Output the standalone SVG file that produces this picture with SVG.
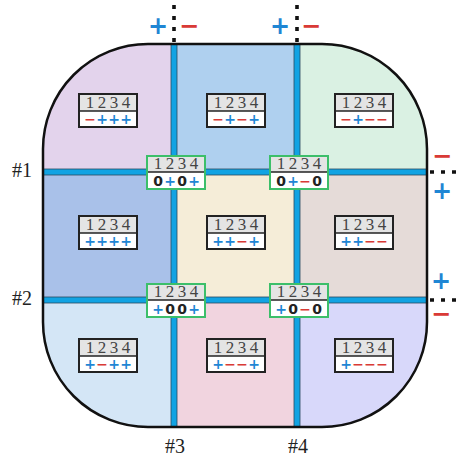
<svg xmlns="http://www.w3.org/2000/svg" width="458" height="456" viewBox="0 0 458 456">
<style>
.hd{fill:#e4e4e4}
.box{fill:none;stroke:#222;stroke-width:2}
.gbox{fill:none;stroke:#3cbf6a;stroke-width:2}
.dv{stroke:#222;stroke-width:1.5}
.num{font-family:"Liberation Serif",serif;font-size:17px;fill:#444;text-anchor:middle}
.sg{font-family:"DejaVu Sans",sans-serif;font-weight:bold;font-size:14px;text-anchor:middle}
.p{fill:#1f86d4}
.m{fill:#d93a36}
.z{fill:#222}
.lab{font-family:"Liberation Serif",serif;font-size:20px;fill:#222}
.big{font-family:"DejaVu Sans",sans-serif;font-weight:bold;font-size:24px;text-anchor:middle}
.band{fill:#11a3e3;stroke:#2a4a60;stroke-width:0.8}
.dot{stroke:#111;stroke-width:3.6;stroke-dasharray:4 7;fill:none}
</style>
<defs>
<clipPath id="shape"><rect x="43" y="44" width="384" height="383" rx="105" ry="105"/></clipPath>
</defs>
<g clip-path="url(#shape)">
<rect x="43" y="44" width="131" height="128" fill="#e3d3ec"/>
<rect x="174" y="44" width="123" height="128" fill="#afd0ef"/>
<rect x="297" y="44" width="130" height="128" fill="#daf1e3"/>
<rect x="43" y="172" width="131" height="128" fill="#a9c1e9"/>
<rect x="174" y="172" width="123" height="128" fill="#f5edd8"/>
<rect x="297" y="172" width="130" height="128" fill="#e5dbd8"/>
<rect x="43" y="300" width="131" height="127" fill="#d4e6f6"/>
<rect x="174" y="300" width="123" height="127" fill="#f1d4df"/>
<rect x="297" y="300" width="130" height="127" fill="#d8d8fa"/>
</g>
<g id="connectors">
<rect class="band" x="171" y="44" width="6" height="383"/>
<rect class="band" x="294" y="44" width="6" height="383"/>
<rect class="band" x="43" y="169" width="384" height="6"/>
<rect class="band" x="43" y="297" width="384" height="6"/>
<line class="dot" x1="174" y1="5" x2="174" y2="44"/>
<line class="dot" x1="297" y1="5" x2="297" y2="44"/>
<line class="dot" x1="430" y1="172" x2="458" y2="172"/>
<line class="dot" x1="430" y1="300" x2="458" y2="300"/>
</g>
<rect x="43" y="44" width="384" height="383" rx="105" ry="105" fill="none" stroke="#111" stroke-width="2.5"/>
<g id="polarity">
<text class="big p" x="158" y="34">+</text>
<text class="big m" x="189" y="34">−</text>
<text class="big p" x="280" y="34">+</text>
<text class="big m" x="311" y="34">−</text>
<text class="big m" x="442" y="164">−</text>
<text class="big p" x="442" y="199">+</text>
<text class="big p" x="441" y="289">+</text>
<text class="big m" x="441" y="322">−</text>
</g>
<g id="labels">
<text class="lab" x="12" y="177">#1</text>
<text class="lab" x="12" y="305">#2</text>
<text class="lab" x="175" y="453" text-anchor="middle">#3</text>
<text class="lab" x="298" y="453" text-anchor="middle">#4</text>
</g>
<g id="cell-tl">
<rect class="hd" x="79" y="94" width="58" height="17"/><rect x="79" y="111" width="58" height="16" fill="#fff"/>
<line class="dv" x1="79" y1="111" x2="137" y2="111"/><rect class="box" x="79" y="94" width="58" height="33"/>
<text class="num" y="108"><tspan x="90">1</tspan><tspan x="102">2</tspan><tspan x="114">3</tspan><tspan x="126">4</tspan></text>
<text class="sg" y="124"><tspan class="m" x="90">−</tspan><tspan class="p" x="102">+</tspan><tspan class="p" x="114">+</tspan><tspan class="p" x="126">+</tspan></text>
</g>
<g id="cell-tm">
<rect class="hd" x="207" y="94" width="58" height="17"/><rect x="207" y="111" width="58" height="16" fill="#fff"/>
<line class="dv" x1="207" y1="111" x2="265" y2="111"/><rect class="box" x="207" y="94" width="58" height="33"/>
<text class="num" y="108"><tspan x="218">1</tspan><tspan x="230">2</tspan><tspan x="242">3</tspan><tspan x="254">4</tspan></text>
<text class="sg" y="124"><tspan class="m" x="218">−</tspan><tspan class="p" x="230">+</tspan><tspan class="m" x="242">−</tspan><tspan class="p" x="254">+</tspan></text>
</g>
<g id="cell-tr">
<rect class="hd" x="335" y="94" width="58" height="17"/><rect x="335" y="111" width="58" height="16" fill="#fff"/>
<line class="dv" x1="335" y1="111" x2="393" y2="111"/><rect class="box" x="335" y="94" width="58" height="33"/>
<text class="num" y="108"><tspan x="346">1</tspan><tspan x="358">2</tspan><tspan x="370">3</tspan><tspan x="382">4</tspan></text>
<text class="sg" y="124"><tspan class="m" x="346">−</tspan><tspan class="p" x="358">+</tspan><tspan class="m" x="370">−</tspan><tspan class="m" x="382">−</tspan></text>
</g>
<g id="cell-ml">
<rect class="hd" x="79" y="216" width="58" height="17"/><rect x="79" y="233" width="58" height="16" fill="#fff"/>
<line class="dv" x1="79" y1="233" x2="137" y2="233"/><rect class="box" x="79" y="216" width="58" height="33"/>
<text class="num" y="230"><tspan x="90">1</tspan><tspan x="102">2</tspan><tspan x="114">3</tspan><tspan x="126">4</tspan></text>
<text class="sg" y="246"><tspan class="p" x="90">+</tspan><tspan class="p" x="102">+</tspan><tspan class="p" x="114">+</tspan><tspan class="p" x="126">+</tspan></text>
</g>
<g id="cell-mm">
<rect class="hd" x="207" y="216" width="58" height="17"/><rect x="207" y="233" width="58" height="16" fill="#fff"/>
<line class="dv" x1="207" y1="233" x2="265" y2="233"/><rect class="box" x="207" y="216" width="58" height="33"/>
<text class="num" y="230"><tspan x="218">1</tspan><tspan x="230">2</tspan><tspan x="242">3</tspan><tspan x="254">4</tspan></text>
<text class="sg" y="246"><tspan class="p" x="218">+</tspan><tspan class="p" x="230">+</tspan><tspan class="m" x="242">−</tspan><tspan class="p" x="254">+</tspan></text>
</g>
<g id="cell-mr">
<rect class="hd" x="335" y="216" width="58" height="17"/><rect x="335" y="233" width="58" height="16" fill="#fff"/>
<line class="dv" x1="335" y1="233" x2="393" y2="233"/><rect class="box" x="335" y="216" width="58" height="33"/>
<text class="num" y="230"><tspan x="346">1</tspan><tspan x="358">2</tspan><tspan x="370">3</tspan><tspan x="382">4</tspan></text>
<text class="sg" y="246"><tspan class="p" x="346">+</tspan><tspan class="p" x="358">+</tspan><tspan class="m" x="370">−</tspan><tspan class="m" x="382">−</tspan></text>
</g>
<g id="cell-bl">
<rect class="hd" x="79" y="339" width="58" height="17"/><rect x="79" y="356" width="58" height="16" fill="#fff"/>
<line class="dv" x1="79" y1="356" x2="137" y2="356"/><rect class="box" x="79" y="339" width="58" height="33"/>
<text class="num" y="353"><tspan x="90">1</tspan><tspan x="102">2</tspan><tspan x="114">3</tspan><tspan x="126">4</tspan></text>
<text class="sg" y="369"><tspan class="p" x="90">+</tspan><tspan class="m" x="102">−</tspan><tspan class="p" x="114">+</tspan><tspan class="p" x="126">+</tspan></text>
</g>
<g id="cell-bm">
<rect class="hd" x="207" y="339" width="58" height="17"/><rect x="207" y="356" width="58" height="16" fill="#fff"/>
<line class="dv" x1="207" y1="356" x2="265" y2="356"/><rect class="box" x="207" y="339" width="58" height="33"/>
<text class="num" y="353"><tspan x="218">1</tspan><tspan x="230">2</tspan><tspan x="242">3</tspan><tspan x="254">4</tspan></text>
<text class="sg" y="369"><tspan class="p" x="218">+</tspan><tspan class="m" x="230">−</tspan><tspan class="m" x="242">−</tspan><tspan class="p" x="254">+</tspan></text>
</g>
<g id="cell-br">
<rect class="hd" x="335" y="339" width="58" height="17"/><rect x="335" y="356" width="58" height="16" fill="#fff"/>
<line class="dv" x1="335" y1="356" x2="393" y2="356"/><rect class="box" x="335" y="339" width="58" height="33"/>
<text class="num" y="353"><tspan x="346">1</tspan><tspan x="358">2</tspan><tspan x="370">3</tspan><tspan x="382">4</tspan></text>
<text class="sg" y="369"><tspan class="p" x="346">+</tspan><tspan class="m" x="358">−</tspan><tspan class="m" x="370">−</tspan><tspan class="m" x="382">−</tspan></text>
</g>
<g id="junction-1-3">
<rect class="hd" x="147" y="156" width="58" height="16"/><rect x="147" y="172" width="58" height="17" fill="#fff"/>
<line class="dv" x1="147" y1="172" x2="205" y2="172"/><rect class="gbox" x="147" y="156" width="58" height="33"/>
<text class="num" y="169"><tspan x="158">1</tspan><tspan x="170">2</tspan><tspan x="182">3</tspan><tspan x="194">4</tspan></text>
<text class="sg" y="186"><tspan class="z" x="158">0</tspan><tspan class="p" x="170">+</tspan><tspan class="z" x="182">0</tspan><tspan class="p" x="194">+</tspan></text>
</g>
<g id="junction-1-4">
<rect class="hd" x="270" y="156" width="58" height="16"/><rect x="270" y="172" width="58" height="17" fill="#fff"/>
<line class="dv" x1="270" y1="172" x2="328" y2="172"/><rect class="gbox" x="270" y="156" width="58" height="33"/>
<text class="num" y="169"><tspan x="281">1</tspan><tspan x="293">2</tspan><tspan x="305">3</tspan><tspan x="317">4</tspan></text>
<text class="sg" y="186"><tspan class="z" x="281">0</tspan><tspan class="p" x="293">+</tspan><tspan class="m" x="305">−</tspan><tspan class="z" x="317">0</tspan></text>
</g>
<g id="junction-2-3">
<rect class="hd" x="147" y="284" width="58" height="16"/><rect x="147" y="300" width="58" height="17" fill="#fff"/>
<line class="dv" x1="147" y1="300" x2="205" y2="300"/><rect class="gbox" x="147" y="284" width="58" height="33"/>
<text class="num" y="297"><tspan x="158">1</tspan><tspan x="170">2</tspan><tspan x="182">3</tspan><tspan x="194">4</tspan></text>
<text class="sg" y="314"><tspan class="p" x="158">+</tspan><tspan class="z" x="170">0</tspan><tspan class="z" x="182">0</tspan><tspan class="p" x="194">+</tspan></text>
</g>
<g id="junction-2-4">
<rect class="hd" x="270" y="284" width="58" height="16"/><rect x="270" y="300" width="58" height="17" fill="#fff"/>
<line class="dv" x1="270" y1="300" x2="328" y2="300"/><rect class="gbox" x="270" y="284" width="58" height="33"/>
<text class="num" y="297"><tspan x="281">1</tspan><tspan x="293">2</tspan><tspan x="305">3</tspan><tspan x="317">4</tspan></text>
<text class="sg" y="314"><tspan class="p" x="281">+</tspan><tspan class="z" x="293">0</tspan><tspan class="m" x="305">−</tspan><tspan class="z" x="317">0</tspan></text>
</g>
</svg>
